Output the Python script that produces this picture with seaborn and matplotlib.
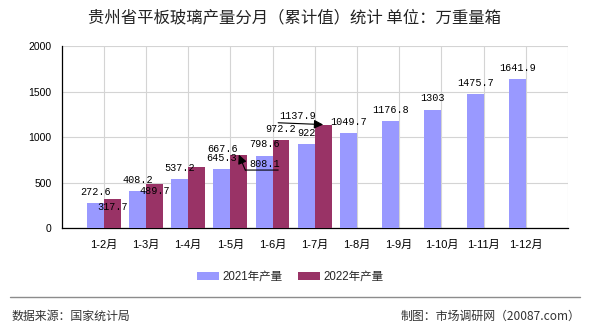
import matplotlib
matplotlib.use("Agg")
import matplotlib.pyplot as plt
import matplotlib.transforms as mtransforms
from matplotlib.lines import Line2D
from matplotlib.patches import Patch
import numpy as np
import pandas as pd
import seaborn as sns

# ---- data -------------------------------------------------------------
months = ["1-2月", "1-3月", "1-4月", "1-5月", "1-6月", "1-7月",
          "1-8月", "1-9月", "1-10月", "1-11月", "1-12月"]
output_2021 = [272.6, 408.2, 537.2, 645.3, 798.6, 922, 1049.7,
               1176.8, 1303, 1475.7, 1641.9]
output_2022 = [317.7, 489.7, 667.6, 808.1, 972.2, 1137.9]
series_names = ["2021年产量", "2022年产量"]
y_ticks = [0, 500, 1000, 1500, 2000]

title = "贵州省平板玻璃产量分月（累计值）统计 单位：万重量箱"
source_text = "数据来源：国家统计局"
credit_text = "制图：市场调研网（20087.com）"

colors = ["#9999FF", "#993366"]

rows = []
for m, v in zip(months, output_2021):
    rows.append({"月份": m, "产量": v, "年份": series_names[0]})
for m, v in zip(months, output_2022):
    rows.append({"月份": m, "产量": v, "年份": series_names[1]})
df = pd.DataFrame(rows)

# ---- style ------------------------------------------------------------
sns.set_theme(style="white")
FAM = ["Liberation Sans", "Noto Sans CJK SC", "DejaVu Sans"]
CJK = ["Noto Sans CJK SC", "DejaVu Sans"]
plt.rcParams["font.family"] = FAM
plt.rcParams["axes.unicode_minus"] = False

W, H = 590, 330
fig = plt.figure(figsize=(W / 100, H / 100), dpi=100)
left, right, top, bottom = 61.5, 568, 46, 228.3
ax = fig.add_axes([left / W, 1 - bottom / H, (right - left) / W, (bottom - top) / H])

sns.barplot(data=df, x="月份", y="产量", hue="年份", order=months,
            hue_order=series_names, palette=colors, saturation=1,
            width=0.8, gap=0, errorbar=None, legend=False, ax=ax,
            linewidth=0, zorder=3)

ax.set_xlim(-1, len(months))
ax.set_ylim(0, 2000)
ax.set_yticks(y_ticks)
ax.set_yticklabels([str(t) for t in y_ticks])
ax.set_xticks(np.arange(len(months) + 1))
ax.set_xticklabels(months + [""])
ax.set_xlabel("")
ax.set_ylabel("")

ax.set_axisbelow(True)
ax.grid(True, color="#d4d4d4", linewidth=0.8)
for s in ["top", "right"]:
    ax.spines[s].set_visible(False)
for s in ["left", "bottom"]:
    ax.spines[s].set_color("black")
    ax.spines[s].set_linewidth(0.9)
ax.tick_params(axis="y", direction="out", length=5, width=0.8, pad=2,
               labelsize=7.5, colors="black")
ax.tick_params(axis="x", direction="out", length=3, width=0.8, pad=5,
               labelsize=8, colors="black")
for lab in ax.get_xticklabels() + ax.get_yticklabels():
    lab.set_family(FAM)

# ---- value labels -----------------------------------------------------
LBL = dict(fontsize=7.3, family=["Liberation Mono", "DejaVu Sans Mono"],
           color="black", ha="center", va="baseline", zorder=6)


def bars_of(container):
    pts = [(p.get_x() + p.get_width() / 2, p.get_height()) for p in container]
    return sorted(pts)


def fmt(v):
    return f"{v:g}"


bars21 = bars_of(ax.containers[0])
bars22 = bars_of(ax.containers[1])

# first series: label sits just above each bar
for (x, h), v in zip(bars21, output_2021):
    ax.annotate(fmt(v), xy=(x, h), xytext=(0, 5.8),
                textcoords="offset points", **LBL)

# second series: default label inside the top of the bar,
# crowded ones are moved aside
offsets_22 = {2: (18.7, 11.0), 4: (0, 5.5)}
for i, ((x, h), v) in enumerate(zip(bars22, output_2022)):
    if i in (3, 5):
        continue
    dx, dy = offsets_22.get(i, (0, -7.6))
    ax.annotate(fmt(v), xy=(x, h), xytext=(dx, dy),
                textcoords="offset points", **LBL)


def pt_offset(dx, dy):
    return mtransforms.offset_copy(ax.transData, fig=fig, x=dx, y=dy,
                                   units="points")


ARROW = dict(arrowstyle="-|>,head_length=0.45,head_width=0.22",
             color="black", lw=0.8, shrinkA=0, shrinkB=0)
LINE = dict(arrowstyle="-", color="black", lw=0.8, shrinkA=0, shrinkB=0)

# 1-5月 2022: label pushed down-right with a leader line
x, h = bars22[3]
ax.annotate(fmt(output_2022[3]), xy=(x, h), xytext=(18.4, -8.9),
            textcoords="offset points", **LBL)
ax.annotate("", xy=(x, h), xytext=(4.7, -11.1),
            textcoords="offset points", arrowprops=ARROW, zorder=6)
ax.annotate("", xy=(x, h), xycoords=pt_offset(28.4, -11.1),
            xytext=(x, h), textcoords=pt_offset(4.7, -11.1),
            arrowprops=LINE, zorder=6)

# 1-7月 2022: label pushed left with a leader line
x, h = bars22[5]
ax.annotate(fmt(output_2022[5]), xy=(x, h), xytext=(-18.7, 4.0),
            textcoords="offset points", **LBL)
ax.annotate("", xy=(x, h), xytext=(-32.4, 1.3),
            textcoords="offset points", arrowprops=ARROW, zorder=6)

# ---- title, legend, footer --------------------------------------------
fig.text(294 / W, 1 - 18 / H, title, ha="center", va="center",
         fontsize=11.8, family=CJK, color="#222222")

handles = [Patch(facecolor=c, edgecolor="none", label=n)
           for c, n in zip(colors, series_names)]
fig.legend(handles=handles, loc="center",
           bbox_to_anchor=(290.5 / W, 1 - 277 / H), ncol=2, frameon=False,
           prop={"family": FAM, "size": 8.3}, handlelength=1.9,
           handleheight=0.7, handletextpad=0.35, columnspacing=1.3,
           borderpad=0, borderaxespad=0)

fig.add_artist(Line2D([10 / W, 580 / W], [1 - 297 / H, 1 - 297 / H],
                      color="#8c8c8c", lw=1.0))
fig.text(12 / W, 1 - 316 / H, source_text, ha="left", va="center",
         fontsize=8.6, family=CJK, color="#333333")
fig.text(580 / W, 1 - 316 / H, credit_text, ha="right", va="center",
         fontsize=8.6, family=CJK, color="#333333")

fig.savefig("out.png", dpi=100, facecolor="white")
